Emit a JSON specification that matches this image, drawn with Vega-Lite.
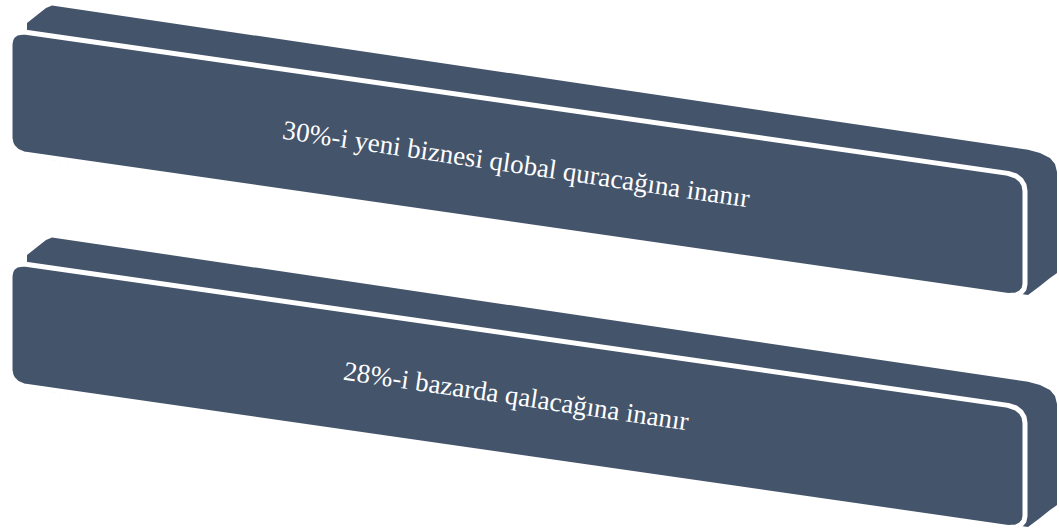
{
  "$schema": "https://vega.github.io/schema/vega-lite/v6.json",
  "width": 1059,
  "height": 531,
  "autosize": {"type": "none"},
  "padding": 0,
  "background": "white",
  "config": {"view": {"stroke": null}},
  "datasets": {
    "back": [
      {"bar": 1, "x": 27, "y": 23, "y2": 150},
      {"bar": 1, "x": 46, "y": 8, "y2": 158},
      {"bar": 1, "x": 52, "y": 5.5, "y2": 160},
      {"bar": 1, "x": 1028, "y": 149.7, "y2": 295},
      {"bar": 1, "x": 1040, "y": 153, "y2": 286},
      {"bar": 1, "x": 1050, "y": 158, "y2": 278},
      {"bar": 1, "x": 1055, "y": 164, "y2": 274.5},
      {"bar": 1, "x": 1057, "y": 172, "y2": 273},
      {"bar": 2, "x": 27, "y": 255, "y2": 382},
      {"bar": 2, "x": 46, "y": 240, "y2": 390},
      {"bar": 2, "x": 52, "y": 237.5, "y2": 392},
      {"bar": 2, "x": 1028, "y": 381.7, "y2": 527},
      {"bar": 2, "x": 1040, "y": 385, "y2": 518},
      {"bar": 2, "x": 1050, "y": 390, "y2": 510},
      {"bar": 2, "x": 1055, "y": 396, "y2": 506.5},
      {"bar": 2, "x": 1057, "y": 404, "y2": 505}
    ],
    "front": [
      {"bar": 1, "x": 10, "y": 44, "y2": 138},
      {"bar": 1, "x": 11, "y": 38.9, "y2": 143.3},
      {"bar": 1, "x": 13, "y": 35.7, "y2": 147.1},
      {"bar": 1, "x": 17, "y": 32.9, "y2": 151.1},
      {"bar": 1, "x": 24, "y": 32.0, "y2": 154.0},
      {"bar": 1, "x": 1008, "y": 173.4, "y2": 295.4},
      {"bar": 1, "x": 1016, "y": 176.0, "y2": 295.0},
      {"bar": 1, "x": 1021, "y": 180.0, "y2": 292.5},
      {"bar": 1, "x": 1024, "y": 185.0, "y2": 289.0},
      {"bar": 1, "x": 1025, "y": 191.0, "y2": 283.9},
      {"bar": 2, "x": 10, "y": 276, "y2": 370},
      {"bar": 2, "x": 11, "y": 270.9, "y2": 375.3},
      {"bar": 2, "x": 13, "y": 267.7, "y2": 379.1},
      {"bar": 2, "x": 17, "y": 264.9, "y2": 383.1},
      {"bar": 2, "x": 24, "y": 264.0, "y2": 386.0},
      {"bar": 2, "x": 1008, "y": 405.4, "y2": 527.4},
      {"bar": 2, "x": 1016, "y": 408.0, "y2": 527.0},
      {"bar": 2, "x": 1021, "y": 412.0, "y2": 524.5},
      {"bar": 2, "x": 1024, "y": 417.0, "y2": 521.0},
      {"bar": 2, "x": 1025, "y": 423.0, "y2": 515.9}
    ],
    "labels": [
      {"bar": 1, "label": "30%-i yeni biznesi qlobal quracağına inanır", "x": 516, "y": 165},
      {"bar": 2, "label": "28%-i bazarda qalacağına inanır", "x": 516, "y": 397}
    ]
  },
  "encoding": {
    "x": {"field": "x", "type": "quantitative", "scale": {"domain": [0, 1059], "nice": false, "zero": false}, "axis": null},
    "y": {"field": "y", "type": "quantitative", "scale": {"domain": [0, 531], "nice": false, "zero": false, "reverse": true}, "axis": null}
  },
  "layer": [
    {
      "data": {"name": "back"},
      "mark": {"type": "area", "color": "#44546A", "opacity": 1, "clip": false},
      "encoding": {
        "y2": {"field": "y2"},
        "detail": {"field": "bar", "type": "nominal"}
      }
    },
    {
      "data": {"name": "front"},
      "mark": {"type": "area", "fill": "#44546A", "stroke": "white", "strokeWidth": 5, "opacity": 1, "strokeJoin": "round", "clip": false},
      "encoding": {
        "y2": {"field": "y2"},
        "detail": {"field": "bar", "type": "nominal"}
      }
    },
    {
      "data": {"name": "labels"},
      "mark": {"type": "text", "font": "Liberation Serif", "fontSize": 27, "color": "white", "angle": 8.4, "align": "center", "baseline": "middle"},
      "encoding": {
        "text": {"field": "label", "type": "nominal"}
      }
    }
  ]
}
